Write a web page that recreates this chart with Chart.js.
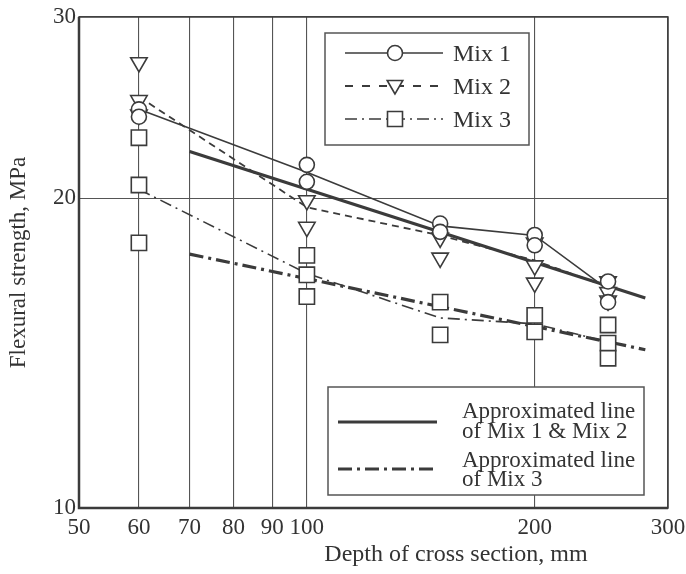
<!DOCTYPE html>
<html>
<head>
<meta charset="utf-8">
<script src="https://cdn.jsdelivr.net/npm/chart.js@4/dist/chart.umd.min.js"></script>
<style>
  html, body { margin: 0; padding: 0; background: #fff; }
  #wrap { width: 686px; height: 574px; position: relative; }
</style>
</head>
<body>
<div id="wrap"><canvas id="c" width="686" height="574"></canvas></div>
<script>
// ---- data ----
const depths = [60, 100, 150, 200, 250];
const xTicks = [50, 60, 70, 80, 90, 100, 200, 300];
const yTicks = [10, 20, 30];

// individual specimens per depth
const mix1Points = [[24.4, 24.0], [21.55, 20.75], [18.9, 18.55], [18.42, 18.0], [16.6, 15.85]];
const mix2Points = [[27.1, 24.9, 24.1], [19.9, 18.75], [18.3, 17.5], [18.1, 17.2, 16.55], [16.6, 16.2, 15.9]];
const mix3Points = [[22.9, 20.6, 18.1], [17.6, 16.85, 16.05], [15.85, 14.73], [15.39, 14.83], [15.06, 14.46, 13.98]];

// connecting (mean) lines
const mix1Line = [24.4, 21.2, 18.8, 18.4, 16.3];
const mix2Line = [25.1, 19.6, 18.4, 17.4, 16.4];
const mix3Line = [20.4, 16.9, 15.3, 15.1, 14.5];

// approximated lines
const approxDepths = [70, 280];
const approx12 = [22.2, 16.0];
const approx3 = [17.65, 14.25];

const INK = '#3b3b3b';
const FONT = "'Liberation Serif', 'DejaVu Serif', serif";

const toPts = (vals) => depths.flatMap((d, i) => vals[i].map(v => ({ x: d, y: v })));
const toLine = (xs, ys) => xs.map((d, i) => ({ x: d, y: ys[i] }));

const markerBase = { showLine: false, pointBackgroundColor: '#fff', pointBorderColor: INK, pointBorderWidth: 1.6, order: 0 };
const lineBase = { showLine: true, pointRadius: 0, fill: false, borderColor: INK, order: 1 };

const datasets = [
  { ...markerBase, label: 'Mix 1', data: toPts(mix1Points), pointStyle: 'circle', pointRadius: 7.5 },
  { ...markerBase, label: 'Mix 2', data: toPts(mix2Points), pointStyle: 'triangle', pointRotation: 180, pointRadius: 9.5 },
  { ...markerBase, label: 'Mix 3', data: toPts(mix3Points), pointStyle: 'rect', pointRadius: 10.8 },
  { ...lineBase, label: 'Mix 1 line', data: toLine(depths, mix1Line), borderWidth: 1.6 },
  { ...lineBase, label: 'Mix 2 line', data: toLine(depths, mix2Line), borderWidth: 1.8, borderDash: [7, 5] },
  { ...lineBase, label: 'Mix 3 line', data: toLine(depths, mix3Line), borderWidth: 1.6, borderDash: [12, 5, 2, 5] },
  { ...lineBase, label: 'Approximated line of Mix 1 & Mix 2', data: toLine(approxDepths, approx12), borderWidth: 3.2 },
  { ...lineBase, label: 'Approximated line of Mix 3', data: toLine(approxDepths, approx3), borderWidth: 3.2, borderDash: [14, 5, 3, 5] }
];

function marker(ctx, style, x, y) {
  ctx.save();
  ctx.fillStyle = '#fff';
  ctx.strokeStyle = INK;
  ctx.lineWidth = 1.6;
  ctx.setLineDash([]);
  ctx.beginPath();
  if (style === 'circle') {
    ctx.arc(x, y, 7.5, 0, Math.PI * 2);
  } else if (style === 'tri') {
    const r = 9;
    ctx.moveTo(x, y + r);
    ctx.lineTo(x - r * Math.sin(Math.PI / 3), y - r / 2);
    ctx.lineTo(x + r * Math.sin(Math.PI / 3), y - r / 2);
    ctx.closePath();
  } else {
    ctx.rect(x - 7.5, y - 7.5, 15, 15);
  }
  ctx.fill();
  ctx.stroke();
  ctx.restore();
}

function seg(ctx, x1, x2, y, w, dash) {
  ctx.save();
  ctx.strokeStyle = INK;
  ctx.lineWidth = w;
  ctx.setLineDash(dash);
  ctx.beginPath();
  ctx.moveTo(x1, y);
  ctx.lineTo(x2, y);
  ctx.stroke();
  ctx.restore();
}

const decor = {
  id: 'decor',
  afterDraw(chart) {
    const ctx = chart.ctx;
    const a = chart.chartArea;
    // frame
    ctx.save();
    ctx.strokeStyle = INK;
    ctx.lineWidth = 1.5;
    ctx.strokeRect(a.left, a.top, a.right - a.left, a.bottom - a.top);
    ctx.lineWidth = 2.5;
    ctx.beginPath();
    ctx.moveTo(a.left, a.top); ctx.lineTo(a.left, a.bottom); ctx.lineTo(a.right, a.bottom);
    ctx.stroke();
    ctx.restore();

    // legend 1
    ctx.save();
    ctx.fillStyle = '#fff';
    ctx.fillRect(325, 33, 204, 112);
    ctx.strokeStyle = '#555';
    ctx.lineWidth = 1.5;
    ctx.strokeRect(325, 33, 204, 112);
    ctx.restore();
    seg(ctx, 345, 443, 53, 1.6, []);
    marker(ctx, 'circle', 395, 53);
    seg(ctx, 345, 443, 86, 1.8, [8, 9]);
    marker(ctx, 'tri', 395, 85);
    seg(ctx, 345, 443, 119, 1.6, [12, 5, 2, 5]);
    marker(ctx, 'rect', 395, 119);
    ctx.save();
    ctx.fillStyle = '#333';
    ctx.font = '24px ' + FONT;
    ctx.textBaseline = 'middle';
    ctx.textAlign = 'left';
    ctx.fillText('Mix 1', 453, 55);
    ctx.fillText('Mix 2', 453, 88);
    ctx.fillText('Mix 3', 453, 121);
    ctx.restore();

    // legend 2
    ctx.save();
    ctx.fillStyle = '#fff';
    ctx.fillRect(328, 387, 316, 108);
    ctx.strokeStyle = '#555';
    ctx.lineWidth = 1.5;
    ctx.strokeRect(328, 387, 316, 108);
    ctx.restore();
    seg(ctx, 338, 437, 422, 3.2, []);
    seg(ctx, 338, 437, 469, 3.2, [14, 5, 3, 5]);
    ctx.save();
    ctx.fillStyle = '#333';
    ctx.font = '23px ' + FONT;
    ctx.textBaseline = 'middle';
    ctx.textAlign = 'left';
    ctx.fillText('Approximated line', 462, 412);
    ctx.fillText('of Mix 1 & Mix 2', 462, 432);
    ctx.fillText('Approximated line', 462, 461);
    ctx.fillText('of Mix 3', 462, 480);
    ctx.restore();

    // x axis title
    ctx.save();
    ctx.fillStyle = '#333';
    ctx.font = '24px ' + FONT;
    ctx.textAlign = 'center';
    ctx.textBaseline = 'middle';
    ctx.fillText('Depth of cross section, mm', 456, 555);
    ctx.restore();
  }
};

new Chart(document.getElementById('c'), {
  type: 'scatter',
  data: { datasets },
  plugins: [decor],
  options: {
    responsive: false,
    animation: false,
    events: [],
    layout: { padding: { left: 0, top: 17, right: 18, bottom: 0 } },
    plugins: { legend: { display: false }, tooltip: { enabled: false } },
    scales: {
      x: {
        type: 'logarithmic',
        min: 50, max: 300,
        afterBuildTicks: (s) => { s.ticks = xTicks.map(v => ({ value: v })); },
        afterFit: (s) => { s.height = 66; s.paddingLeft = 0; s.paddingRight = 0; },
        grid: { color: '#555', lineWidth: 1.1, drawTicks: false },
        border: { display: false },
        ticks: {
          autoSkip: false, maxRotation: 0, padding: 6, color: '#333',
          font: { family: FONT, size: 23 },
          callback: (v) => String(v)
        }
      },
      y: {
        type: 'logarithmic',
        min: 10, max: 30,
        afterBuildTicks: (s) => { s.ticks = yTicks.map(v => ({ value: v })); },
        afterFit: (s) => { s.width = 79; s.paddingTop = 0; s.paddingBottom = 0; },
        grid: { color: '#555', lineWidth: 1.1, drawTicks: false },
        border: { display: false },
        title: {
          display: true, text: 'Flexural strength, MPa', color: '#333',
          font: { family: FONT, size: 23 }, padding: { top: 5, bottom: 0 }
        },
        ticks: {
          autoSkip: false, padding: 3, color: '#333',
          font: { family: FONT, size: 23 },
          callback: (v) => String(v)
        }
      }
    }
  }
});
</script>
</body>
</html>
